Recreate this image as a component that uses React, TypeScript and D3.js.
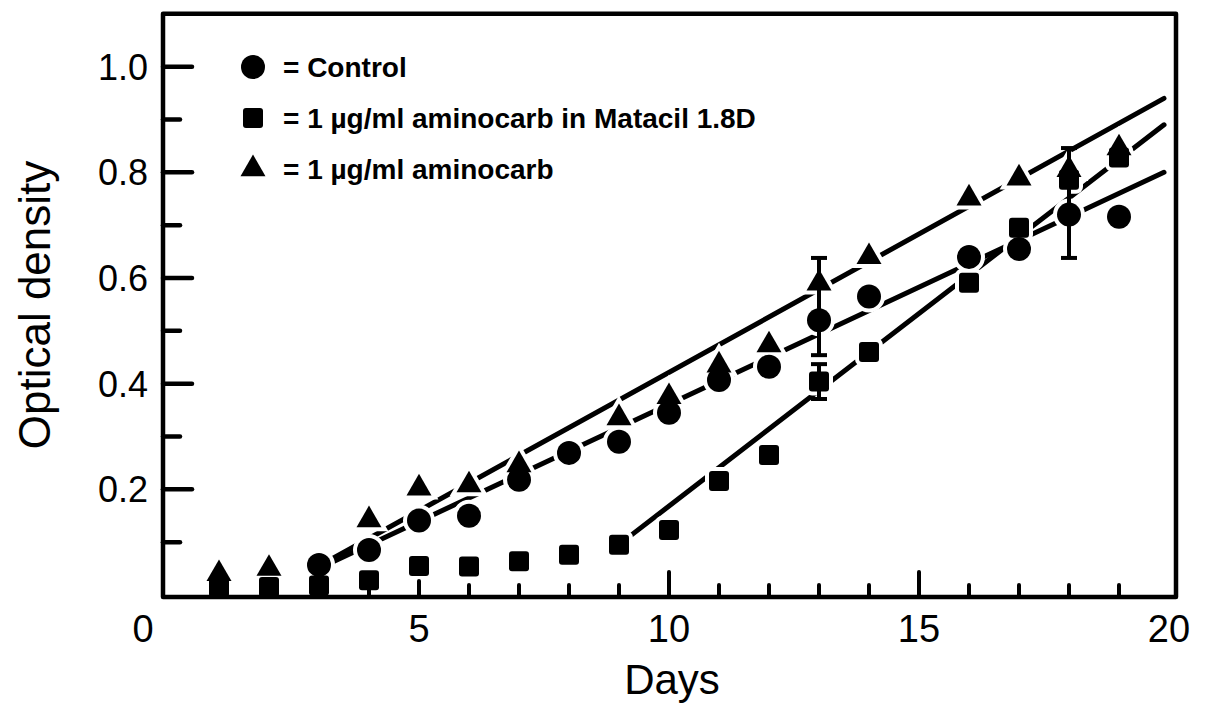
import React from "react";
import * as d3 from "d3";

// Optical density readings by day for each culture condition
const controlDays = [3, 4, 5, 6, 7, 8, 9, 10, 11, 12, 13, 14, 16, 17, 18, 19];
const controlOD = [0.057, 0.085, 0.141, 0.15, 0.218, 0.269, 0.29, 0.345, 0.407, 0.432, 0.52, 0.565, 0.64, 0.655, 0.72, 0.716];

const matacilDays = [1, 2, 3, 4, 5, 6, 7, 8, 9, 10, 11, 12, 13, 14, 16, 17, 18, 19];
const matacilOD = [0.015, 0.015, 0.018, 0.028, 0.055, 0.054, 0.064, 0.076, 0.095, 0.123, 0.216, 0.265, 0.404, 0.46, 0.591, 0.695, 0.786, 0.828];

const aminocarbDays = [1, 2, 4, 5, 6, 7, 9, 10, 11, 12, 13, 14, 16, 17, 18, 19];
const aminocarbOD = [0.04, 0.05, 0.142, 0.202, 0.208, 0.246, 0.335, 0.375, 0.435, 0.473, 0.59, 0.64, 0.751, 0.789, 0.805, 0.846];

// Fitted growth lines: [day, OD] end points
const controlFit: [number, number][] = [[3.1, 0.055], [19.9, 0.8]];
const matacilFit: [number, number][] = [[9.2, 0.11], [19.9, 0.89]];
const aminocarbFit: [number, number][] = [[3.1, 0.06], [19.9, 0.94]];

// Error bars (day, low, high)
const errDays = [13, 13, 18];
const errLow = [0.454, 0.371, 0.638];
const errHigh = [0.638, 0.437, 0.846];

// Axis ticks
const xTickDays = d3.range(1, 20);
const xLabelValues = [0, 5, 10, 15, 20];
const yMajor = [0.2, 0.4, 0.6, 0.8, 1.0];
const yMinor = [0.1, 0.3, 0.5, 0.7, 0.9];
const yLabels = ["0.2", "0.4", "0.6", "0.8", "1.0"];

const legendLabels = [
  "= Control",
  "= 1 µg/ml aminocarb in Matacil 1.8D",
  "= 1 µg/ml aminocarb",
];

const W = 1214;
const H = 728;
const FONT = "'Liberation Sans', Arial, sans-serif";

const x = d3.scaleLinear().domain([0, 20]).range([169, 1169]);
const y = d3.scaleLinear().domain([0, 1]).range([595, 66.7]);

const circlePath = d3.symbol().type(d3.symbolCircle).size(Math.PI * 12 * 12)()!;
const trianglePath = d3.symbol().type(d3.symbolTriangle).size(270)()!;

type Shape = "circle" | "square" | "triangle";

function Marker({ shape, cx, cy, halo }: { shape: Shape; cx: number; cy: number; halo?: boolean }) {
  const paint = halo
    ? { fill: "#fff", stroke: "#fff", strokeWidth: 8 }
    : { fill: "#000", stroke: "none" };
  if (shape === "square") {
    return <rect x={cx - 10} y={cy - 10} width={20} height={20} rx={3} {...paint} />;
  }
  return (
    <path
      d={shape === "circle" ? circlePath : trianglePath}
      transform={`translate(${cx},${cy})`}
      {...paint}
    />
  );
}

const series: { shape: Shape; days: number[]; od: number[]; fit: [number, number][] }[] = [
  { shape: "circle", days: controlDays, od: controlOD, fit: controlFit },
  { shape: "square", days: matacilDays, od: matacilOD, fit: matacilFit },
  { shape: "triangle", days: aminocarbDays, od: aminocarbOD, fit: aminocarbFit },
];

export default function App() {
  const line = d3
    .line<[number, number]>()
    .x((d) => x(d[0]))
    .y((d) => y(d[1]));

  const left = x(0) - 6;
  const right = x(20) + 7;
  const top = y(1.1);
  const bottom = y(0) + 2;

  const points = series.flatMap((s) =>
    s.days.map((d, i) => ({ shape: s.shape, cx: x(d), cy: y(s.od[i]) }))
  );

  const xTickLen = (d: number) => (d === 10 || d === 15 ? 25 : d === 5 ? 16 : 12);

  return (
    <svg
      width={W}
      height={H}
      viewBox={`0 0 ${W} ${H}`}
      style={{ position: "absolute", left: 0, top: 0, background: "#fff" }}
    >
      <rect width={W} height={H} fill="#fff" />

      {/* fitted lines */}
      {series.map((s) => (
        <path key={"fit" + s.shape} d={line(s.fit)!} fill="none" stroke="#000" strokeWidth={5} strokeLinecap="round" />
      ))}

      {/* white halos break the lines around each point */}
      {points.map((p, i) => (
        <Marker key={"h" + i} shape={p.shape} cx={p.cx} cy={p.cy} halo />
      ))}

      {/* frame */}
      <path
        d={`M${left},${top}H${right}V${bottom}H${left}Z`}
        fill="none"
        stroke="#000"
        strokeWidth={4.5}
        strokeLinejoin="round"
      />

      {/* y ticks */}
      {yMajor.map((v) => (
        <line key={"ym" + v} x1={left} x2={left + 29} y1={y(v)} y2={y(v)} stroke="#000" strokeWidth={4.5} strokeLinecap="round" />
      ))}
      {yMinor.map((v) => (
        <line key={"yn" + v} x1={left} x2={left + 17} y1={y(v)} y2={y(v)} stroke="#000" strokeWidth={4.5} strokeLinecap="round" />
      ))}
      {yMajor.map((v, i) => (
        <text
          key={"yl" + v}
          x={148}
          y={y(v)}
          dy="0.36em"
          textAnchor="end"
          fontFamily={FONT}
          fontSize={36}
          fill="#000"
        >
          {yLabels[i]}
        </text>
      ))}

      {/* x ticks */}
      {xTickDays.map((d) => (
        <line key={"xt" + d} x1={x(d)} x2={x(d)} y1={bottom} y2={bottom - xTickLen(d)} stroke="#000" strokeWidth={4} strokeLinecap="round" />
      ))}
      {xLabelValues.map((v) => (
        <text
          key={"xl" + v}
          x={v === 0 ? x(0) - 26 : x(v)}
          y={642}
          textAnchor="middle"
          fontFamily={FONT}
          fontSize={38}
          fill="#000"
        >
          {v}
        </text>
      ))}

      {/* axis titles */}
      <text x={672} y={694} textAnchor="middle" fontFamily={FONT} fontSize={42} fill="#000">
        Days
      </text>
      <text
        transform={`translate(50,305) rotate(-90)`}
        textAnchor="middle"
        fontFamily={FONT}
        fontSize={44}
        fill="#000"
      >
        Optical density
      </text>

      {/* error bars */}
      {errDays.map((d, i) => (
        <g key={"eb" + i} stroke="#000" strokeWidth={4}>
          <line x1={x(d)} x2={x(d)} y1={y(errLow[i])} y2={y(errHigh[i])} />
          <line x1={x(d) - 8} x2={x(d) + 8} y1={y(errLow[i])} y2={y(errLow[i])} />
          <line x1={x(d) - 8} x2={x(d) + 8} y1={y(errHigh[i])} y2={y(errHigh[i])} />
        </g>
      ))}

      {/* data points */}
      {points.map((p, i) => (
        <Marker key={"m" + i} shape={p.shape} cx={p.cx} cy={p.cy} />
      ))}

      {/* legend */}
      {series.map((s, i) => {
        const ly = 67 + i * 51;
        return (
          <g key={"lg" + i}>
            <Marker shape={s.shape} cx={253} cy={ly} />
            <text x={283} y={ly} dy="0.36em" fontFamily={FONT} fontSize={28} fontWeight="bold" fill="#000">
              {legendLabels[i]}
            </text>
          </g>
        );
      })}
    </svg>
  );
}
